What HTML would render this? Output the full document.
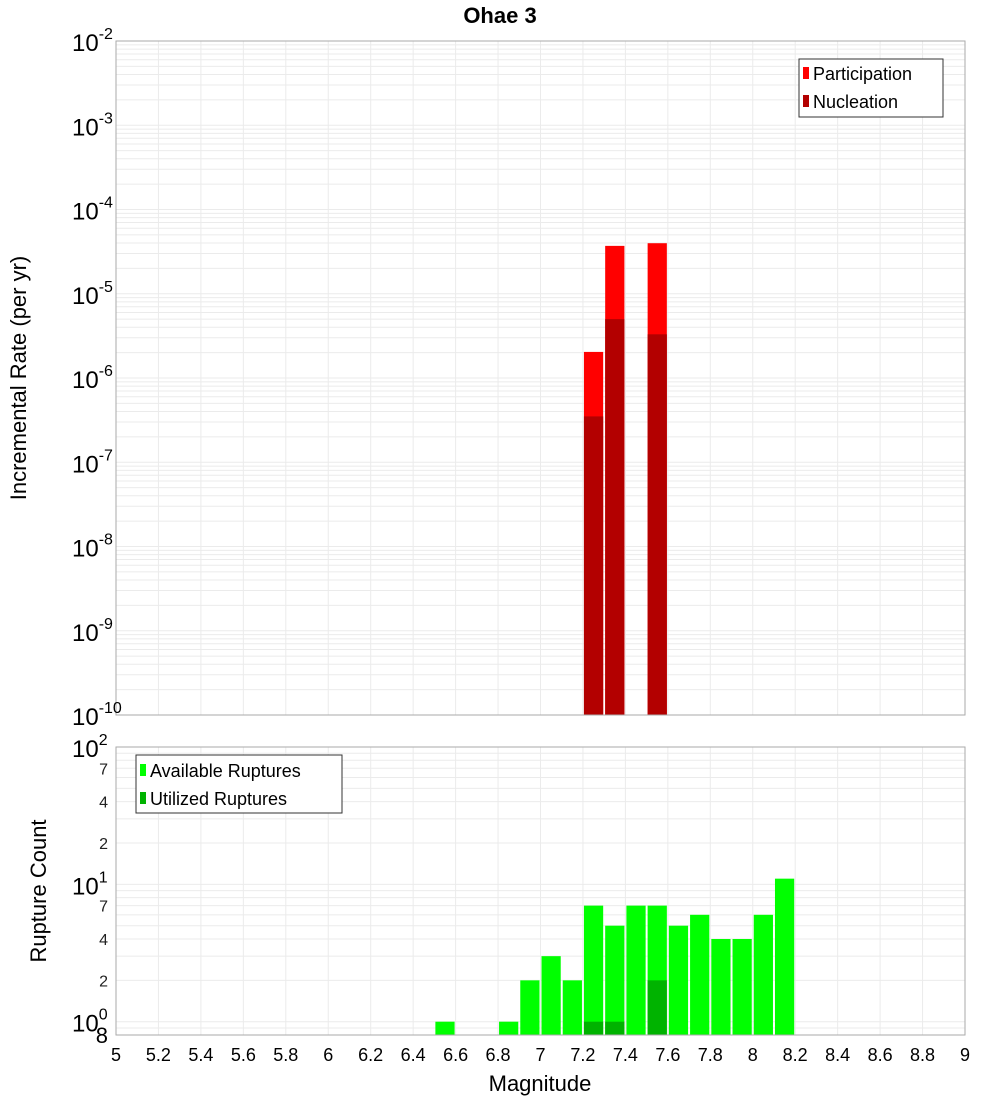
<!DOCTYPE html>
<html><head><meta charset="utf-8"><style>
body{margin:0;background:#fff;}
svg{display:block;font-family:"Liberation Sans","DejaVu Sans",sans-serif;}
</style></head><body>
<svg id="c" width="1000" height="1100" xmlns="http://www.w3.org/2000/svg"></svg>
<script>
// Top chart data
const topMags = [7.25, 7.35, 7.55];
const participation = [2.04e-6, 3.7e-5, 3.98e-5];
const nucleation = [3.5e-7, 5.0e-6, 3.3e-6];
// Bottom chart data
const botMags = [6.55, 6.85, 6.95, 7.05, 7.15, 7.25, 7.35, 7.45, 7.55, 7.65, 7.75, 7.85, 7.95, 8.05, 8.15];
const available = [1, 1, 2, 3, 2, 7, 5, 7, 7, 5, 6, 4, 4, 6, 11];
const utilMags = [7.25, 7.35, 7.55];
const utilized = [1, 1, 2];
const xTicks = [5,5.2,5.4,5.6,5.8,6,6.2,6.4,6.6,6.8,7,7.2,7.4,7.6,7.8,8,8.2,8.4,8.6,8.8,9];
const topExps = [-10,-9,-8,-7,-6,-5,-4,-3,-2];
const botMinor = [2,4,7];

const svg = document.getElementById('c');
const NS = 'http://www.w3.org/2000/svg';
function mk(tag, attrs, parent, text){
  const e = document.createElementNS(NS, tag);
  for (const k in attrs) e.setAttribute(k, attrs[k]);
  if (text !== undefined) e.textContent = text;
  (parent||svg).appendChild(e);
  return e;
}
const X0=116, X1=965;
const x = m => X0 + (m-5)/4*(X1-X0);
const TT=41, TB=715;
const yT = v => TB - (Math.log10(v)+10)/8*(TB-TT);
const BT=747, BB=1035, bMin=Math.log10(0.8), bMax=2;
const yB = v => BB - (Math.log10(v)-bMin)/(bMax-bMin)*(BB-BT);

// Grids
const gTop = mk('g',{});


for (let e=-10;e<-2;e++) for (let k=1;k<10;k++){
  const yy=yT(k*Math.pow(10,e));
  mk('line',{x1:X0,x2:X1,y1:yy,y2:yy,stroke:'#ebebeb','stroke-width':1},gTop);
}
xTicks.forEach(t=>mk('line',{x1:x(t),x2:x(t),y1:TT,y2:TB,stroke:'#ebebeb'},gTop));
const gBot = mk('g',{});


for (let e=-1;e<2;e++) for (let k=1;k<10;k++){
  const v=k*Math.pow(10,e); if(v<0.8) continue;
  const yy=yB(v);
  mk('line',{x1:X0,x2:X1,y1:yy,y2:yy,stroke:'#ebebeb'},gBot);
}
xTicks.forEach(t=>mk('line',{x1:x(t),x2:x(t),y1:BT,y2:BB,stroke:'#ebebeb'},gBot));

// Top bars
topMags.forEach((m,i)=>{
  const b=mk('rect',{x:x(m-0.05)+1,y:yT(participation[i]),width:x(m+0.05)-x(m-0.05)-2,height:TB-yT(participation[i]),fill:'#ff0000'});
  
  
  const n=mk('rect',{x:x(m-0.05)+1,y:yT(nucleation[i]),width:x(m+0.05)-x(m-0.05)-2,height:TB-yT(nucleation[i]),fill:'#b30000'});
  
  
});
// Bottom bars
botMags.forEach((m,i)=>{
  const b=mk('rect',{x:x(m-0.05)+1,y:yB(available[i]),width:x(m+0.05)-x(m-0.05)-2,height:BB-yB(available[i]),fill:'#00ff00'});
  
  
});
utilMags.forEach((m,i)=>{
  const b=mk('rect',{x:x(m-0.05)+1,y:yB(utilized[i]),width:x(m+0.05)-x(m-0.05)-2,height:BB-yB(utilized[i]),fill:'#00b300'});
  
  
});

// Frames
const f1=mk('rect',{x:X0,y:TT,width:X1-X0,height:TB-TT,fill:'none',stroke:'#aaa'});


const f2=mk('rect',{x:X0,y:BT,width:X1-X0,height:BB-BT,fill:'none',stroke:'#aaa'});



// Top y ticks
topExps.forEach(e=>{
  const yy=yT(Math.pow(10,e));
  const t=mk('text',{x:72,y:yy+10,'font-size':24,fill:'#000'},undefined,'10');
  
  
  mk('tspan',{dy:-12,'font-size':16},t,String(e));
});
// Bottom y ticks
[0,1,2].forEach(e=>{
  const yy=yB(Math.pow(10,e));
  const t=mk('text',{x:72,y:yy+10,'font-size':24,fill:'#000'},undefined,'10');
  
  
  mk('tspan',{dy:-12,'font-size':16},t,String(e));
});
[0,1].forEach(e=>botMinor.forEach(k=>{
  const t=mk('text',{x:108,y:yB(k*Math.pow(10,e))+6,'font-size':16,'text-anchor':'end',fill:'#222'},undefined,String(k));
  
  
}));
const t8=mk('text',{x:108,y:yB(0.8)+8,'font-size':22,'text-anchor':'end',fill:'#000'},undefined,'8');



// X ticks
xTicks.forEach(t=>{
  const lab=mk('text',{x:x(t),y:1061,'font-size':18,'text-anchor':'middle',fill:'#000'},undefined,String(t));
  
  
});
</script>
<svg width="0" height="0" style="position:absolute"></svg>
<div style="position:absolute;left:0;top:0;width:1000px;height:1100px;pointer-events:none">
<svg width="1000" height="1100" xmlns="http://www.w3.org/2000/svg" style="font-family:'Liberation Sans','DejaVu Sans',sans-serif">
<text x="500" y="23" font-size="22" font-weight="bold" text-anchor="middle">Ohae 3</text>
<text x="26" y="378" font-size="22" text-anchor="middle" transform="rotate(-90 26 378)">Incremental Rate (per yr)</text>
<text x="46" y="891" font-size="22" text-anchor="middle" transform="rotate(-90 46 891)">Rupture Count</text>
<text x="540" y="1091" font-size="22" text-anchor="middle">Magnitude</text>
<g>
<rect x="799" y="59" width="144" height="58" fill="#fff" stroke="#333"/>
<rect x="803" y="67" width="6" height="12" fill="#ff0000"/>
<text x="813" y="80" font-size="18">Participation</text>
<rect x="803" y="95" width="6" height="12" fill="#b30000"/>
<text x="813" y="108" font-size="18">Nucleation</text>
</g>
<g>
<rect x="136" y="755" width="206" height="58" fill="#fff" stroke="#333"/>
<rect x="140" y="764" width="6" height="12" fill="#00ff00"/>
<text x="150" y="777" font-size="18">Available Ruptures</text>
<rect x="140" y="792" width="6" height="12" fill="#00b300"/>
<text x="150" y="805" font-size="18">Utilized Ruptures</text>
</g>
</svg>
</div>
</body></html>
